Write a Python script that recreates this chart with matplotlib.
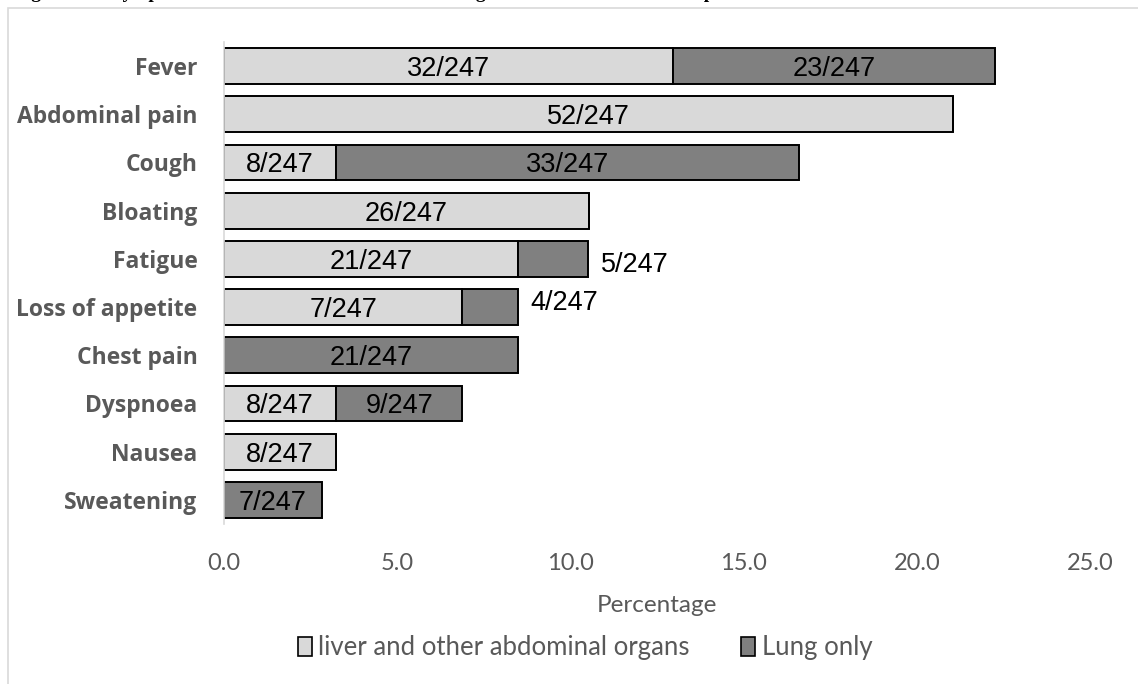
"""Main symptoms by affected organ, stacked horizontal bars."""

import matplotlib
matplotlib.use("Agg")
import matplotlib.pyplot as plt
from matplotlib.patches import Patch, Rectangle

symptoms = ["Fever", "Abdominal pain", "Cough", "Bloating", "Fatigue",
            "Loss of appetite", "Chest pain", "Dyspnoea", "Nausea", "Sweatening"]
# percentages
liver_pct = [12.96, 21.05, 3.24, 10.53, 8.50, 6.88, 0.0, 3.24, 3.24, 0.0]
lung_pct = [9.31, 0.0, 13.36, 0.0, 2.02, 1.62, 8.50, 3.64, 0.0, 2.83]
liver_lbl = ["32/247", "52/247", "8/247", "26/247", "21/247", "7/247", "", "8/247", "8/247", ""]
lung_lbl = ["23/247", "", "33/247", "", "5/247", "4/247", "21/247", "9/247", "", "7/247"]
lung_outside = ["Fatigue", "Loss of appetite"]
xticks = [0, 5, 10, 15, 20, 25]

LIGHT = "#D9D9D9"
DARK = "#808080"
GREY_TXT = "#595959"
UI_FONT = ["Lato", "DejaVu Sans"]
CAT_FONT = ["Open Sans", "DejaVu Sans"]
BAR_FONT = ["Liberation Sans", "DejaVu Sans"]


def main() -> None:
    W, H = 1138, 684
    fig = plt.figure(figsize=(W / 100, H / 100), dpi=100)
    ax = fig.add_axes([224 / W, 1 - 524 / H, 866 / W, 482 / H])

    y = list(range(len(symptoms)))
    ax.barh(y, liver_pct, height=0.74, color=LIGHT, edgecolor="black", linewidth=1.4)
    ax.barh(y, lung_pct, left=liver_pct, height=0.74, color=DARK, edgecolor="black", linewidth=1.4)

    for i, name in enumerate(symptoms):
        if liver_lbl[i]:
            ax.text(liver_pct[i] / 2, i + 0.06, liver_lbl[i], ha="center", va="center",
                    fontsize=19.5, family=BAR_FONT, color="black")
        if lung_lbl[i]:
            if name in lung_outside:
                dy = 0.12 if name == "Fatigue" else -0.08
                ax.text(liver_pct[i] + lung_pct[i] + 0.35, i + dy, lung_lbl[i], ha="left",
                        va="center", fontsize=19.5, family=BAR_FONT, color="black")
            else:
                ax.text(liver_pct[i] + lung_pct[i] / 2, i + 0.06, lung_lbl[i], ha="center",
                        va="center", fontsize=19.5, family=BAR_FONT, color="black")

    ax.set_xlim(0, 25)
    ax.set_ylim(len(symptoms) - 0.5, -0.5)
    ax.set_yticks(y)
    ax.set_yticklabels(symptoms, fontsize=16.5, fontweight="bold", family=CAT_FONT, color=GREY_TXT)
    ax.set_xticks(xticks)
    ax.set_xticklabels([f"{t:.1f}" for t in xticks], fontsize=17, family=UI_FONT, color=GREY_TXT)
    ax.tick_params(axis="y", length=0, pad=19)
    ax.tick_params(axis="x", length=0, pad=21)
    for side in ("top", "right", "bottom"):
        ax.spines[side].set_visible(False)
    ax.spines["left"].set_color(LIGHT)
    ax.spines["left"].set_linewidth(1.2)
    ax.set_xlabel("Percentage", fontsize=17.5, family=UI_FONT, color=GREY_TXT, labelpad=15)

    handles = [Patch(facecolor=LIGHT, edgecolor="black", linewidth=1.2),
               Patch(facecolor=DARK, edgecolor="black", linewidth=1.2)]
    leg = fig.legend(handles, ["liver and other abdominal organs", "Lung only"], ncol=2,
                     loc="center", bbox_to_anchor=(585 / W, 1 - 648 / H), frameon=False,
                     handlelength=0.55, handleheight=0.75, handletextpad=0.25, columnspacing=2.0,
                     prop={"family": UI_FONT, "size": 18.5})
    for t in leg.get_texts():
        t.set_color(GREY_TXT)

    # chart-area border, cut by the page edge
    fig.patches.append(Rectangle((8 / W, -0.1), 1.2, 1.1 - 8 / H, transform=fig.transFigure,
                                 fill=False, edgecolor=LIGHT, linewidth=1.2))
    # caption above the chart, mostly cut off by the crop
    fig.text(0.012, 1 + 2 / H, "Fig 3. Main symptoms of the CE cases at the time of diagnosis "
             "in the three state hospitals", ha="left", va="baseline", fontsize=14,
             fontweight="bold", family=["Liberation Serif", "DejaVu Serif"])

    fig.savefig("out.png", dpi=100)
    plt.close(fig)


if __name__ == "__main__":
    main()
